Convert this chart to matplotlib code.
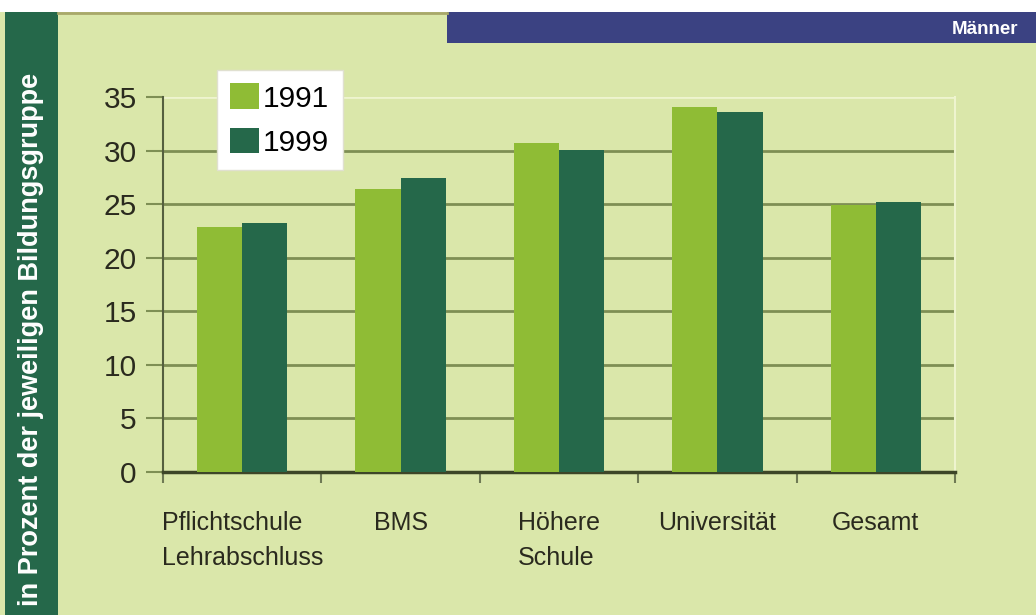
import matplotlib
matplotlib.use("Agg")
import matplotlib.pyplot as plt
import matplotlib.patches as patches
import numpy as np

categories = ["Pflichtschule\nLehrabschluss", "BMS", "Höhere\nSchule", "Universität", "Gesamt"]
values_1991 = [22.9, 26.4, 30.7, 34.1, 24.9]
values_1999 = [23.2, 27.4, 30.1, 33.6, 25.2]
years = ["1991", "1999"]
y_ticks = [0, 5, 10, 15, 20, 25, 30, 35]

BG = "#dae7aa"
LIGHT = "#8fbc35"
DARK = "#25684a"
BLUE = "#3b4282"
GRID = "#7e8f54"

plt.rcParams["font.family"] = ["Liberation Sans", "DejaVu Sans"]

fig = plt.figure(figsize=(10.36, 6.15), dpi=100)
fig.patch.set_facecolor("white")

# background panels
fig.patches.append(patches.Rectangle((0.0, 0.0), 1.0, 1 - 12 / 615, transform=fig.transFigure,
                                     facecolor=BG, edgecolor="none", zorder=-3))
fig.patches.append(patches.Rectangle((5 / 1036, 0.0), 53 / 1036, 1 - 12 / 615, transform=fig.transFigure,
                                     facecolor=DARK, edgecolor="none", zorder=-2))
fig.patches.append(patches.Rectangle((447 / 1036, 1 - 43 / 615), 1 - 447 / 1036, 31 / 615,
                                     transform=fig.transFigure, facecolor=BLUE, edgecolor="none", zorder=-2))
fig.lines.append(plt.Line2D([58 / 1036, 447 / 1036], [1 - 13 / 615, 1 - 13 / 615], transform=fig.transFigure,
                            color="#a8a86a", linewidth=2, zorder=-1))

fig.text(1018 / 1036, 1 - 30 / 615, "Männer", color="white", fontsize=13.5, fontweight="bold",
         ha="right", va="center")
fig.text(31 / 1036, 1 - 339 / 615, "in Prozent der jeweiligen Bildungsgruppe", color="white",
         fontsize=19.5, fontweight="bold", rotation=90, ha="center", va="center")

ax = fig.add_axes([163 / 1036, 1 - 472 / 615, 792 / 1036, 375 / 615])
ax.set_zorder(3)
ax.set_facecolor(BG)

x = np.arange(len(categories))
w = 0.285
ax.bar(x - w / 2, values_1991, width=w, color=LIGHT, label=years[0], zorder=3)
ax.bar(x + w / 2, values_1999, width=w, color=DARK, label=years[1], zorder=3)

ax.set_xlim(-0.5, len(categories) - 0.5)
ax.set_ylim(0, 35)
ax.set_yticks(y_ticks)
ax.set_yticklabels([str(t) for t in y_ticks], fontsize=21.5, color="#2a2a1e")
for t in y_ticks[1:-1]:
    ax.axhline(t, color=GRID, linewidth=2, zorder=1)
ax.axhline(35, color="#eef4cf", linewidth=2, zorder=1)

ax.set_xticks(x)
ax.set_xticklabels(categories, fontsize=18, color="#2a2a1e", multialignment="left", linespacing=1.6)
ax.tick_params(axis="x", length=0, pad=28)
ax.set_xticks(np.arange(len(categories) + 1) - 0.5, minor=True)
ax.tick_params(axis="x", which="minor", length=8, width=1.5, color="#6f7a55", direction="out")
ax.tick_params(axis="y", length=12, width=1.5, color=GRID, pad=7)

ax.spines["top"].set_visible(False)
ax.spines["right"].set_color("#eef4cf")
ax.spines["right"].set_linewidth(1.5)
ax.spines["left"].set_color("#55603f")
ax.spines["left"].set_linewidth(1.5)
ax.spines["bottom"].set_color("#3d4628")
ax.spines["bottom"].set_linewidth(2.5)

leg = ax.legend(loc="upper left", bbox_to_anchor=(0.068, 1.072), borderaxespad=0, fontsize=21.5,
                handlelength=0.95, handleheight=0.95, handletextpad=0.15, labelspacing=0.5,
                borderpad=0.45, fancybox=False, framealpha=1, edgecolor="#e0e0d0")
leg.get_frame().set_linewidth(1)
leg.set_zorder(5)

fig.savefig("out.png", dpi=100, facecolor=fig.get_facecolor())
